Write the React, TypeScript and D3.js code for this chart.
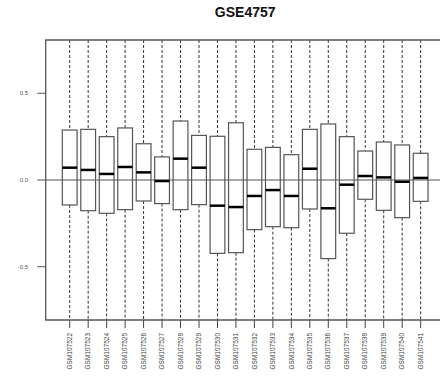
import React from "react";
import * as d3 from "d3";

const samples = [
  "GSM107522", "GSM107523", "GSM107524", "GSM107525", "GSM107526",
  "GSM107527", "GSM107528", "GSM107529", "GSM107530", "GSM107531",
  "GSM107532", "GSM107533", "GSM107534", "GSM107535", "GSM107536",
  "GSM107537", "GSM107538", "GSM107539", "GSM107540", "GSM107541",
];
const q3 = [0.288, 0.292, 0.25, 0.3, 0.209, 0.133, 0.34, 0.257, 0.252, 0.33,
  0.177, 0.188, 0.146, 0.292, 0.323, 0.25, 0.167, 0.219, 0.202, 0.154];
const medians = [0.071, 0.058, 0.035, 0.075, 0.044, -0.006, 0.123, 0.071, -0.148, -0.156,
  -0.092, -0.058, -0.092, 0.065, -0.163, -0.027, 0.023, 0.015, -0.01, 0.012];
const q1 = [-0.144, -0.177, -0.192, -0.171, -0.121, -0.136, -0.171, -0.142, -0.423, -0.419,
  -0.286, -0.269, -0.275, -0.167, -0.453, -0.307, -0.111, -0.175, -0.217, -0.123];
const yTicks = [-0.5, 0, 0.5];
const yTickLabels = ["-0.5", "0.0", "0.5"];
const title = "GSE4757";

export default function App() {
  const W = 440, H = 387;
  const left = 45.7, top = 40, bottom = 320;
  const n = samples.length;
  const unit = 18.47;
  const x = d3.scaleLinear().domain([0.5 - 0.04 * n, n + 0.5 + 0.04 * n])
    .range([left, left + (n + 0.08 * n) * unit]);
  const y = d3.scaleLinear().domain([-0.807, 0.807]).range([bottom, top]);
  const halfW = 0.4;
  const right = x(n + 0.5 + 0.04 * n);
  return (
    <svg width={W} height={H} style={{ position: "absolute", left: 0, top: 0, background: "#fff" }}
      fontFamily="'Liberation Sans', Arial, sans-serif">
      <text x={(left + right) / 2} y={17} textAnchor="middle" fontSize={14} fontWeight="bold" fill="#111">{title}</text>
      {/* zero line */}
      <line x1={left} x2={W} y1={y(0)} y2={y(0)} stroke="#555" strokeWidth={1} />
      {samples.map((s, i) => {
        const cx = x(i + 1);
        return (
          <g key={s}>
            <line x1={cx} x2={cx} y1={top} y2={y(q3[i])} stroke="#333" strokeWidth={1} strokeDasharray="3,2" />
            <line x1={cx} x2={cx} y1={y(q1[i])} y2={bottom} stroke="#333" strokeWidth={1} strokeDasharray="3,2" />
            <rect x={x(i + 1 - halfW)} y={y(q3[i])} width={x(i + 1 + halfW) - x(i + 1 - halfW)}
              height={y(q1[i]) - y(q3[i])} fill="#fff" fillOpacity={0} stroke="#555" strokeWidth={1.2} />
            <line x1={x(i + 1 - halfW)} x2={x(i + 1 + halfW)} y1={y(medians[i])} y2={y(medians[i])}
              stroke="#000" strokeWidth={2.5} />
            <line x1={cx} x2={cx} y1={bottom} y2={bottom + 8} stroke="#444" strokeWidth={1} />
            <text transform={`translate(${cx + 2.2},${bottom + 13}) rotate(-90)`} textAnchor="end"
              fontSize={6.5} fill="#444">{s}</text>
          </g>
        );
      })}
      {/* frame */}
      <path d={`M${right},${top}H${left}V${bottom}H${right}`} fill="none" stroke="#555" strokeWidth={1.3} />
      {yTicks.map((t, i) => (
        <g key={t}>
          <line x1={left - 8.5} x2={left} y1={y(t)} y2={y(t)} stroke="#555" strokeWidth={1} />
          <text x={28} y={y(t)} dy="0.35em" textAnchor="end" fontSize={6} fill="#555">{yTickLabels[i]}</text>
        </g>
      ))}
    </svg>
  );
}
